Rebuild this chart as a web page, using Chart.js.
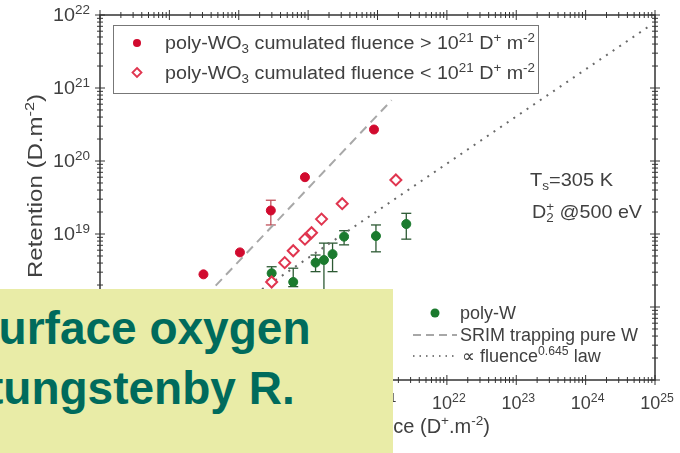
<!DOCTYPE html>
<html>
<head>
<meta charset="utf-8">
<script src="https://cdn.jsdelivr.net/npm/chart.js@4.4.1/dist/chart.umd.min.js"></script>
<style>
  html, body { margin: 0; padding: 0; background: #fff; }
  #wrap { position: relative; width: 680px; height: 453px; overflow: hidden; }
  #c { position: absolute; left: 0; top: 0; }
  #note { position: absolute; left: 0; top: 289px; width: 393px; height: 164px; background: #e9eca7; overflow: hidden; }
  .ln { position: absolute; font: bold 46px/46px "Liberation Sans", Arial, sans-serif; color: #006b5c; white-space: nowrap; }
</style>
</head>
<body>
<div id="wrap">
  <canvas id="c" width="680" height="453"></canvas>
  <div id="note">
    <div class="ln" style="left:-27px;top:16px">surface oxygen</div>
    <div class="ln" style="left:-12px;top:76px">tungstenby R.</div>
  </div>
</div>
<script>
// poly-WO3, cumulated fluence > 1e21
const redHiX = [8.9e20, 9.0e19, 2.9e19, 1.04e19, 3.1e18];
const redHiY = [2.7e20, 6.0e19, 2.1e19, 5.6e18, 2.8e18];
const redHiErrLo = [null, null, 1.33e19, null, null];
const redHiErrHi = [null, null, 2.9e19, null, null];

// poly-WO3, cumulated fluence < 1e21
const redLoX = [1.84e21, 3.1e20, 1.56e20, 1.12e20, 9.0e19, 6.1e19, 4.6e19, 2.98e19];
const redLoY = [5.5e19, 2.6e19, 1.6e19, 1.04e19, 8.5e18, 5.9e18, 4.05e18, 2.2e18];

// poly-W
const wX = [2.6e21, 9.5e20, 3.3e20, 2.25e20, 1.69e20, 1.28e20, 2.98e19, 6.1e19];
const wY = [1.37e19, 9.4e18, 9.2e18, 5.3e18, 4.4e18, 4.05e18, 2.9e18, 2.2e18];
const wErrLo = [8.5e18, 5.7e18, 7.1e18, 3.05e18, 1.0e18, 3.05e18, 2.35e18, 1.9e18];
const wErrHi = [1.92e19, 1.33e19, 1.11e19, 7.5e18, 7.5e18, 5.15e18, 3.56e18, 3.4e18];

// guide lines
const srimX = [3e17, 1.6e21];
const srimY = [1.26e17, 6.8e20];
const lawX = [1e18, 8e24];
const lawY = [2.4e17, 6.9e21];

const X_MIN = 1e17, X_MAX = 1e25;
const Y_MIN = 1e17, Y_MAX = 1e22;

const FONT = '"Liberation Sans", Arial, sans-serif';
const INK = "#404040";
const RED = "#d10a2e";
const RED_OPEN = "#e0354f";
const GREEN = "#1b7a2e";

const pts = (xs, ys) => xs.map((x, i) => ({ x, y: ys[i] }));

// =========================
// Rich text (sub / sup)
// =========================

function segFont(kind, size) {
  const s = kind ? size * 0.68 : size;
  return `${s}px ${FONT}`;
}

function segWidth(ctx, seg, size) {
  const [t, kind] = seg;
  ctx.font = segFont(kind, size);
  if (kind === "ss") return Math.max(ctx.measureText(t[0]).width, ctx.measureText(t[1]).width);
  return ctx.measureText(t).width;
}

function drawRich(ctx, segs, x, y, o) {
  const size = o.size;
  const raw = segs.reduce((a, s) => a + segWidth(ctx, s, size), 0);
  const sx = o.width ? o.width / raw : 1;
  const w = raw * sx;
  let x0 = x;
  if (o.align === "center") x0 = x - w / 2;
  else if (o.align === "right") x0 = x - w;

  ctx.save();
  ctx.translate(x0, y);
  ctx.scale(sx, 1);
  ctx.fillStyle = o.color || INK;
  ctx.textBaseline = "alphabetic";
  ctx.textAlign = "left";
  let cx = 0;
  segs.forEach((seg) => {
    const [t, kind] = seg;
    const sw = segWidth(ctx, seg, size);
    ctx.font = segFont(kind, size);
    if (kind === "sup") ctx.fillText(t, cx, -size * 0.38);
    else if (kind === "sub") ctx.fillText(t, cx, size * 0.22);
    else if (kind === "ss") {
      ctx.fillText(t[0], cx, size * 0.22);
      ctx.fillText(t[1], cx, -size * 0.38);
    } else ctx.fillText(t, cx, 0);
    cx += sw;
  });
  ctx.restore();
  return w;
}

// =========================
// Log ticks
// =========================

function decadeTicks(min, max) {
  const out = [];
  for (let e = Math.round(Math.log10(min)); e <= Math.round(Math.log10(max)); e++) {
    for (let k = 1; k <= 9; k++) {
      const v = k * Math.pow(10, e);
      if (v > max * 1.0001) break;
      out.push({ v, major: k === 1, e });
    }
  }
  return out;
}

function line(ctx, x1, y1, x2, y2) {
  ctx.beginPath();
  ctx.moveTo(x1, y1);
  ctx.lineTo(x2, y2);
  ctx.stroke();
}

const errorBars = {
  id: "errorBars",
  beforeDatasetsDraw(chart) {
    const { ctx, chartArea: a, scales: { x, y } } = chart;
    ctx.save();
    ctx.beginPath();
    ctx.rect(a.left, a.top, a.right - a.left, a.bottom - a.top);
    ctx.clip();
    const sets = [
      [redHiX, redHiErrLo, redHiErrHi, "#c0505a"],
      [wX, wErrLo, wErrHi, "#2d5a34"],
    ];
    sets.forEach(([xs, lo, hi, col]) => {
      ctx.strokeStyle = col;
      ctx.lineWidth = 1.3;
      xs.forEach((xv, i) => {
        if (lo[i] == null) return;
        const px = x.getPixelForValue(xv);
        const y1 = y.getPixelForValue(hi[i]);
        const y2 = y.getPixelForValue(lo[i]);
        line(ctx, px, y1, px, y2);
        line(ctx, px - 5, y1, px + 5, y1);
        line(ctx, px - 5, y2, px + 5, y2);
      });
    });
    ctx.restore();
  },
};

const frame = {
  id: "frame",
  afterDraw(chart) {
    const { ctx, chartArea: a, scales: { x, y } } = chart;
    ctx.save();
    ctx.strokeStyle = "#333";
    ctx.lineWidth = 1.5;
    ctx.strokeRect(a.left, a.top, a.right - a.left, a.bottom - a.top);
    ctx.lineWidth = 1;

    decadeTicks(X_MIN, X_MAX).forEach((t) => {
      const px = x.getPixelForValue(t.v);
      const L = t.major ? 5 : 3;
      line(ctx, px, a.bottom - L, px, a.bottom + L);
      line(ctx, px, a.top - L, px, a.top + L);
      if (t.major) {
        drawRich(ctx, [["10", ""], [String(t.e), "sup"]], px + 2, a.bottom + 29, { size: 18, align: "center" });
      }
    });
    decadeTicks(Y_MIN, Y_MAX).forEach((t) => {
      const py = y.getPixelForValue(t.v);
      const L = t.major ? 5 : 3;
      line(ctx, a.left - L, py, a.left + L, py);
      line(ctx, a.right - L, py, a.right + L, py);
      if (t.major) {
        drawRich(ctx, [["10", ""], [String(t.e), "sup"]], a.left - 10, py + 6, { size: 18, align: "right", width: 37 });
      }
    });

    // axis titles
    drawRich(ctx, [["Fluence (D", ""], ["+", "sup"], [".m", ""], ["-2", "sup"], [")", ""]], 490, 433, { size: 20, align: "right" });
    ctx.save();
    ctx.translate(35, 186);
    ctx.rotate(-Math.PI / 2);
    drawRich(ctx, [["Retention (D.m", ""], ["-2", "sup"], [")", ""]], 0, 7, { size: 20, align: "center", width: 184 });
    ctx.restore();

    // top-left legend
    ctx.strokeStyle = "#777";
    ctx.lineWidth = 1;
    ctx.strokeRect(113.5, 25.5, 425, 68);
    ctx.fillStyle = RED;
    ctx.beginPath();
    ctx.arc(137, 43, 4, 0, Math.PI * 2);
    ctx.fill();
    ctx.strokeStyle = RED_OPEN;
    ctx.lineWidth = 1.8;
    ctx.beginPath();
    ctx.moveTo(137, 68);
    ctx.lineTo(141.5, 72.5);
    ctx.lineTo(137, 77);
    ctx.lineTo(132.5, 72.5);
    ctx.closePath();
    ctx.stroke();
    ["> ", "< "].forEach((sign, i) => {
      drawRich(ctx, [
        ["poly-WO", ""], ["3", "sub"], [" cumulated fluence " + sign + "10", ""], ["21", "sup"],
        [" D", ""], ["+", "sup"], [" m", ""], ["-2", "sup"],
      ], 165, 49 + i * 30, { size: 18, width: 370 });
    });

    // bottom-right legend
    ctx.fillStyle = GREEN;
    ctx.beginPath();
    ctx.arc(435, 313, 4.5, 0, Math.PI * 2);
    ctx.fill();
    drawRich(ctx, [["poly-W", ""]], 460, 319, { size: 18 });
    ctx.strokeStyle = "#8a8a8a";
    ctx.lineWidth = 1.5;
    ctx.setLineDash([8, 5]);
    line(ctx, 413, 335, 457, 335);
    drawRich(ctx, [["SRIM trapping pure W", ""]], 460, 341, { size: 18 });
    ctx.strokeStyle = "#555";
    ctx.setLineDash([1.5, 5]);
    line(ctx, 413, 356, 457, 356);
    ctx.setLineDash([]);
    drawRich(ctx, [["\u221D fluence", ""], ["0.645", "sup"], [" law", ""]], 462, 362, { size: 18 });

    // annotation
    drawRich(ctx, [["T", ""], ["s", "sub"], ["=305 K", ""]], 530, 186, { size: 19, width: 83 });
    drawRich(ctx, [["D", ""], [["2", "+"], "ss"], [" @500 eV", ""]], 532, 218, { size: 19, width: 110 });

    ctx.restore();
  },
};

new Chart(document.getElementById("c"), {
  type: "scatter",
  data: {
    datasets: [
      {
        label: "poly-WO3 > 1e21",
        data: pts(redHiX, redHiY),
        pointStyle: "circle",
        pointRadius: 4.5,
        backgroundColor: RED,
        borderColor: RED,
        borderWidth: 1,
      },
      {
        label: "poly-WO3 < 1e21",
        data: pts(redLoX, redLoY),
        pointStyle: "rectRot",
        pointRadius: 5.5,
        backgroundColor: "#fff",
        borderColor: RED_OPEN,
        borderWidth: 2,
      },
      {
        label: "poly-W",
        data: pts(wX, wY),
        pointStyle: "circle",
        pointRadius: 4.5,
        backgroundColor: GREEN,
        borderColor: GREEN,
        borderWidth: 1,
      },
      {
        label: "SRIM trapping pure W",
        data: pts(srimX, srimY),
        showLine: true,
        pointRadius: 0,
        borderColor: "#a8a8a8",
        borderWidth: 2,
        borderDash: [9, 6],
      },
      {
        label: "fluence^0.645 law",
        data: pts(lawX, lawY),
        showLine: true,
        pointRadius: 0,
        borderColor: "#6a6a6a",
        borderWidth: 2,
        borderDash: [2, 6],
      },
    ],
  },
  options: {
    responsive: false,
    animation: false,
    devicePixelRatio: 1,
    layout: { padding: { left: 100, right: 25, top: 15, bottom: 73 } },
    plugins: { legend: { display: false }, tooltip: { enabled: false } },
    scales: {
      x: { type: "logarithmic", min: X_MIN, max: X_MAX, display: false },
      y: { type: "logarithmic", min: Y_MIN, max: Y_MAX, display: false },
    },
  },
  plugins: [errorBars, frame],
});
</script>
</body>
</html>
